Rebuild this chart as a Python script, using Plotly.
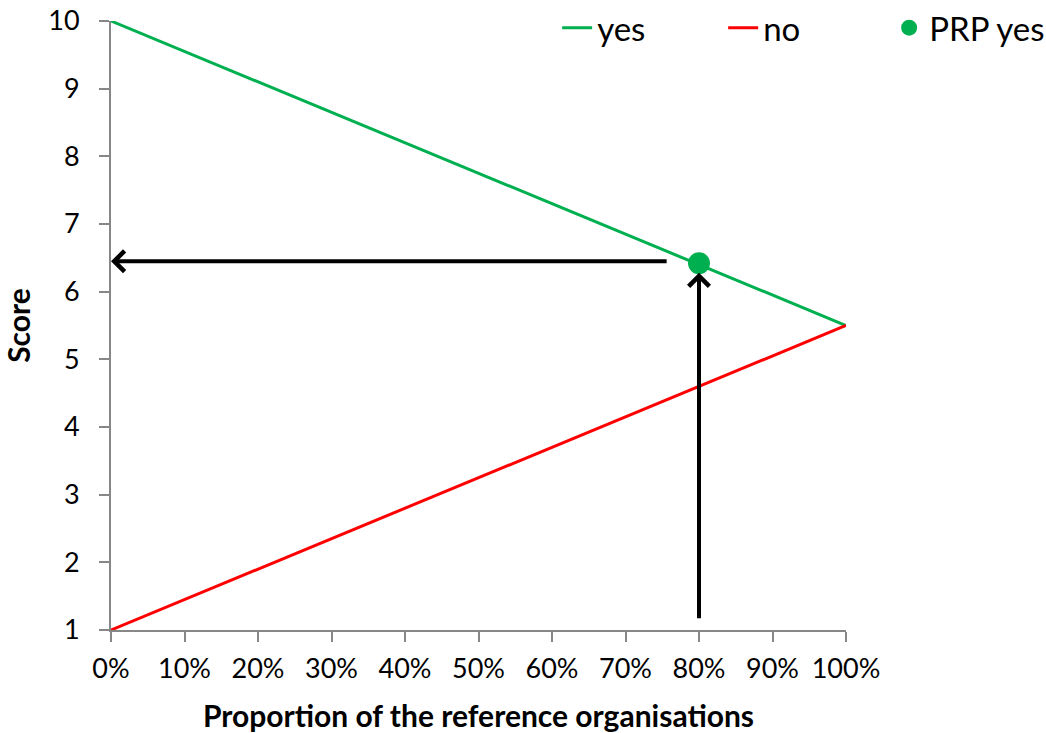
import plotly.graph_objects as go

# data
x_props = [0.0, 1.0]
yes_scores = [10.0, 5.5]
no_scores = [1.0, 5.5]
prp_x = [0.8]
prp_y = [6.42]
x_tickvals = [0, 0.1, 0.2, 0.3, 0.4, 0.5, 0.6, 0.7, 0.8, 0.9, 1.0]
y_tickvals = [1, 2, 3, 4, 5, 6, 7, 8, 9, 10]

FONT = "Lato"
GREEN = "#00B050"
RED = "#FF0000"
AXIS_GRAY = "#878787"

fig = go.Figure()
fig.add_trace(go.Scatter(x=x_props, y=yes_scores, mode="lines", name="yes",
                         line=dict(color=GREEN, width=3), cliponaxis=False))
fig.add_trace(go.Scatter(x=x_props, y=no_scores, mode="lines", name="no",
                         line=dict(color=RED, width=3), cliponaxis=False))
fig.add_trace(go.Scatter(x=prp_x, y=prp_y, mode="markers", name="PRP yes",
                         marker=dict(color=GREEN, size=22), cliponaxis=False))

# arrows pointing from the PRP point to the axes
px, py = prp_x[0], prp_y[0]
arrow_style = dict(showarrow=True, arrowhead=4, arrowsize=1, arrowwidth=4,
                   arrowcolor="black", text="", xref="x", yref="y",
                   axref="x", ayref="y", standoff=0, startstandoff=0)
fig.add_annotation(x=0, y=py + 0.03, ax=px - 0.042, ay=py + 0.03, **arrow_style)
fig.add_annotation(x=px, y=py - 0.14, ax=px, ay=1.15, **arrow_style)

fig.update_layout(
    width=1046, height=733, autosize=False,
    margin=dict(l=111, r=200, t=21, b=103, autoexpand=False),
    plot_bgcolor="white", paper_bgcolor="white",
    font=dict(family=FONT, color="black", size=27),
    showlegend=True,
    legend=dict(orientation="h", x=0.607, xanchor="left", y=0.989, yanchor="middle",
                font=dict(family=FONT, size=33, color="black"),
                entrywidth=121, entrywidthmode="pixels",
                bgcolor="rgba(0,0,0,0)", traceorder="normal"),
)
fig.update_xaxes(range=[0, 1], tickvals=x_tickvals, tickformat=".0%",
                 showgrid=False, zeroline=False, showline=True,
                 linecolor=AXIS_GRAY, linewidth=2, ticks="outside", ticklen=10,
                 tickwidth=2, tickcolor=AXIS_GRAY, ticklabelstandoff=4,
                 tickfont=dict(family=FONT, size=27, color="black"),
                 title=dict(text="<b>Proportion of the reference organisations</b>",
                            font=dict(family=FONT, size=30, color="black"), standoff=23),
                 automargin=False)
fig.update_yaxes(range=[1, 10], tickvals=y_tickvals,
                 showgrid=False, zeroline=False, showline=True,
                 linecolor=AXIS_GRAY, linewidth=2, ticks="outside", ticklen=10,
                 tickwidth=2, tickcolor=AXIS_GRAY, ticklabelstandoff=14,
                 ticklabeloverflow="allow",
                 tickfont=dict(family=FONT, size=27, color="black"),
                 title=dict(text="<b>Score</b>",
                            font=dict(family=FONT, size=30, color="black"), standoff=13),
                 automargin=False)

fig.write_html("out.html",
               config={"displayModeBar": False},
               post_script="document.body.style.margin='0';"
                           "document.body.style.overflow='hidden';")
